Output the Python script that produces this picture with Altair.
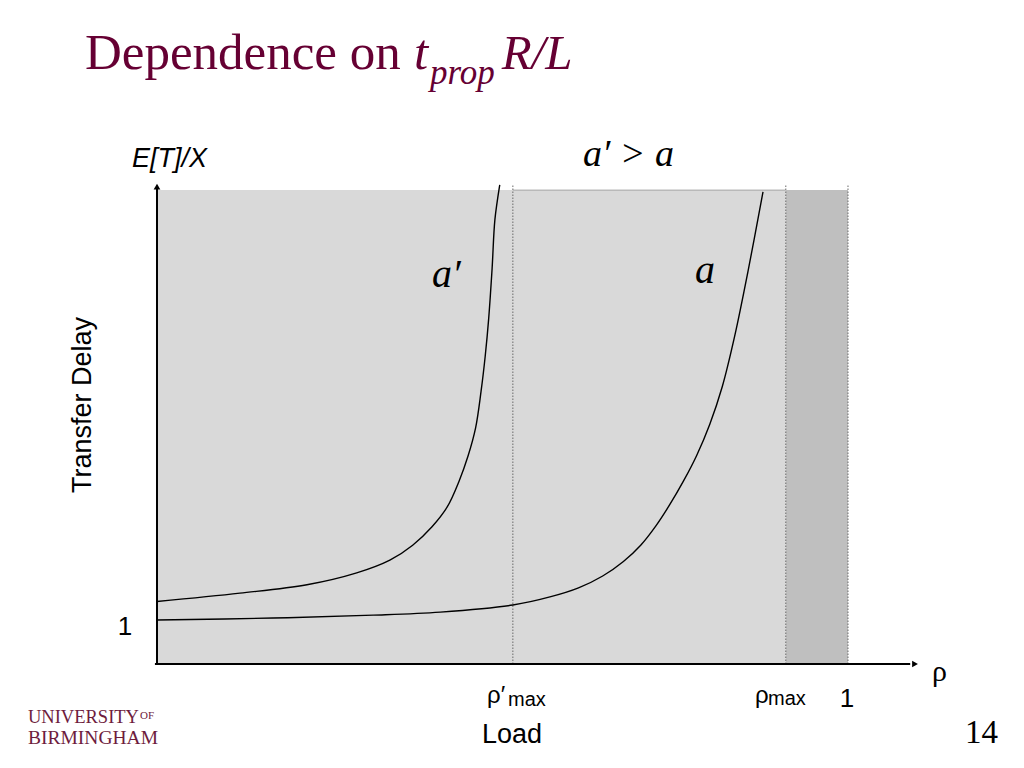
import altair as alt
import pandas as pd

# ---------------- data ----------------
# curve a' (higher a): load rho vs normalised transfer delay E[T]/X
rho_a_prime = [0.0, 0.120, 0.217, 0.289, 0.337, 0.370, 0.398, 0.420, 0.437,
               0.450, 0.461, 0.469, 0.475, 0.480, 0.485, 0.489, 0.496]
delay_a_prime = [1.42, 1.61, 1.80, 2.07, 2.36, 2.70, 3.12, 3.57, 4.15,
                 4.72, 5.36, 6.20, 7.00, 7.85, 9.00, 10.10, 10.89]
# curve a
rho_a = [0.0, 0.168, 0.313, 0.410, 0.515, 0.570, 0.610, 0.645, 0.675,
         0.700, 0.722, 0.742, 0.762, 0.781, 0.800, 0.818, 0.836, 0.855, 0.877]
delay_a = [1.0, 1.045, 1.11, 1.18, 1.34, 1.53, 1.73, 2.00, 2.33,
           2.70, 3.14, 3.62, 4.16, 4.74, 5.45, 6.30, 7.45, 8.90, 10.73]

# shaded regions of the load axis
region_names = ["feasible", "beyond rho_max"]
region_start = [0.0, 0.910]
region_end = [0.910, 1.0]
delay_top = 10.77

# marked loads (rho'_max, rho_max, 1)
marker_names = ["rho'_max", "rho_max", "one"]
marker_rho = [0.515, 0.910, 1.0]
marker_top = 10.89

axis_x_end = 1.09
axis_y_end = 10.80

# ---------------- scales: plot covers the whole page ----------------
X0, X1 = -0.21563, 1.24313
Y0, Y1 = -2.1818, 14.909
xs = alt.Scale(domain=[X0, X1], nice=False, zero=False)
ys = alt.Scale(domain=[Y0, Y1], nice=False, zero=False)


def X(f="x"):
    return alt.X(f"{f}:Q", scale=xs, axis=None)


def Y(f="y"):
    return alt.Y(f"{f}:Q", scale=ys, axis=None)


SANS = "Liberation Sans, Arial, Helvetica, sans-serif"
SERIF = "Liberation Serif, Times New Roman, serif"
MAROON = "#660033"
LOGO = "#6e1c3d"

# ---------------- layers ----------------
regions = pd.DataFrame({"name": region_names, "x": region_start,
                        "x2": region_end, "y": [0.0, 0.0],
                        "y2": [delay_top, delay_top]})
shade = alt.Chart(regions).mark_rect().encode(
    x=X(), x2="x2:Q", y=Y(), y2="y2:Q",
    color=alt.Color("name:N", legend=None,
                    scale=alt.Scale(domain=region_names,
                                    range=["#d9d9d9", "#bfbfbf"])),
)

top_edge = alt.Chart(pd.DataFrame({"x": [marker_rho[0]], "x2": [marker_rho[1]],
                                   "y": [delay_top]})).mark_rule(
    color="#a6a6a6", strokeWidth=1).encode(x=X(), x2="x2:Q", y=Y())

markers = pd.DataFrame({"name": marker_names, "x": marker_rho,
                        "y": [0.0] * 3, "y2": [marker_top] * 3})
dotted = alt.Chart(markers).mark_rule(
    color="#6a6a6a", strokeWidth=1, strokeDash=[1.5, 1.5]).encode(
    x=X(), y=Y(), y2="y2:Q")

curves = pd.DataFrame({
    "x": rho_a_prime + rho_a,
    "y": delay_a_prime + delay_a,
    "series": ["a'"] * len(rho_a_prime) + ["a"] * len(rho_a),
})
lines = alt.Chart(curves).mark_line(
    color="black", strokeWidth=1.4, interpolate="catmull-rom").encode(
    x=X(), y=Y(), detail="series:N", order="x:Q")

y_axis = alt.Chart(pd.DataFrame({"x": [0.0], "y": [0.0], "y2": [axis_y_end]})).mark_rule(
    color="black", strokeWidth=2).encode(x=X(), y=Y(), y2="y2:Q")
x_axis = alt.Chart(pd.DataFrame({"x": [-0.003], "x2": [axis_x_end], "y": [0.0]})).mark_rule(
    color="black", strokeWidth=2).encode(x=X(), x2="x2:Q", y=Y())
arrow_up = alt.Chart(pd.DataFrame({"x": [0.0], "y": [axis_y_end + 0.05]})).mark_point(
    shape="triangle-up", filled=True, color="black", size=45, opacity=1).encode(x=X(), y=Y())
arrow_right = alt.Chart(pd.DataFrame({"x": [axis_x_end + 0.007], "y": [0.0]})).mark_point(
    shape="triangle-right", filled=True, color="black", size=45, opacity=1).encode(x=X(), y=Y())


def label(text, x, y, size, font=SANS, style="normal", align="left",
          baseline="alphabetic", color="black", angle=0):
    df = pd.DataFrame({"x": [x], "y": [y], "t": [text]})
    kw = dict(font=font, fontSize=size, fontStyle=style, align=align,
              baseline=baseline, color=color)
    if angle:
        kw["angle"] = angle
    return alt.Chart(df).mark_text(**kw).encode(x=X(), y=Y(), text="t:N")


texts = [
    # title
    label("Dependence on", -0.1042, 13.52, 51, font=SERIF, color=MAROON),
    label("t", 0.3720, 13.52, 51, font=SERIF, style="italic", color=MAROON),
    label("prop", 0.3950, 13.18, 35, font=SERIF, style="italic", color=MAROON),
    label("R/L", 0.4990, 13.52, 49, font=SERIF, style="italic", color=MAROON),
    # axis titles
    label("E[T]/X", -0.0362, 11.295, 27, style="italic"),
    label("Transfer Delay", -0.1071, 5.886, 27, align="center",
          baseline="middle", angle=270),
    label("Load", 0.5137, -1.795, 27, align="center"),
    label("\u03c1", 1.1216, -0.38, 30, font=SERIF),
    # ticks
    label("1", -0.0463, 0.841, 26, align="center", baseline="middle"),
    label("\u03c1\u2032", 0.4776, -0.886, 24),
    label("max", 0.508, -0.9545, 20),
    label("\u03c1", 0.8654, -0.886, 24),
    label("max", 0.8842, -0.932, 20),
    label("1", 0.9986, -0.977, 26, align="center"),
    # curve annotations
    label("a\u2032 > a", 0.6165, 11.318, 38, font=SERIF, style="italic"),
    label("a\u2032", 0.398, 8.568, 40, font=SERIF, style="italic"),
    label("a", 0.7786, 8.659, 40, font=SERIF, style="italic"),
    # slide number and logo
    label("14", 1.2171, -1.795, 33, font=SERIF, align="right"),
    label("UNIVERSITY", -0.1867, -1.341, 18.5, font=SERIF, color=LOGO),
    label("OF", -0.0245, -1.25, 11, font=SERIF, color=LOGO),
    label("BIRMINGHAM", -0.1867, -1.818, 19.5, font=SERIF, color=LOGO),
]

chart = alt.layer(
    shade, top_edge, dotted, lines, y_axis, x_axis, arrow_up, arrow_right, *texts
).properties(
    width=1008, height=752, padding=0, autosize="none"
).configure_view(stroke=None)

chart.save("out.html", embed_options={"renderer": "svg", "actions": False})
